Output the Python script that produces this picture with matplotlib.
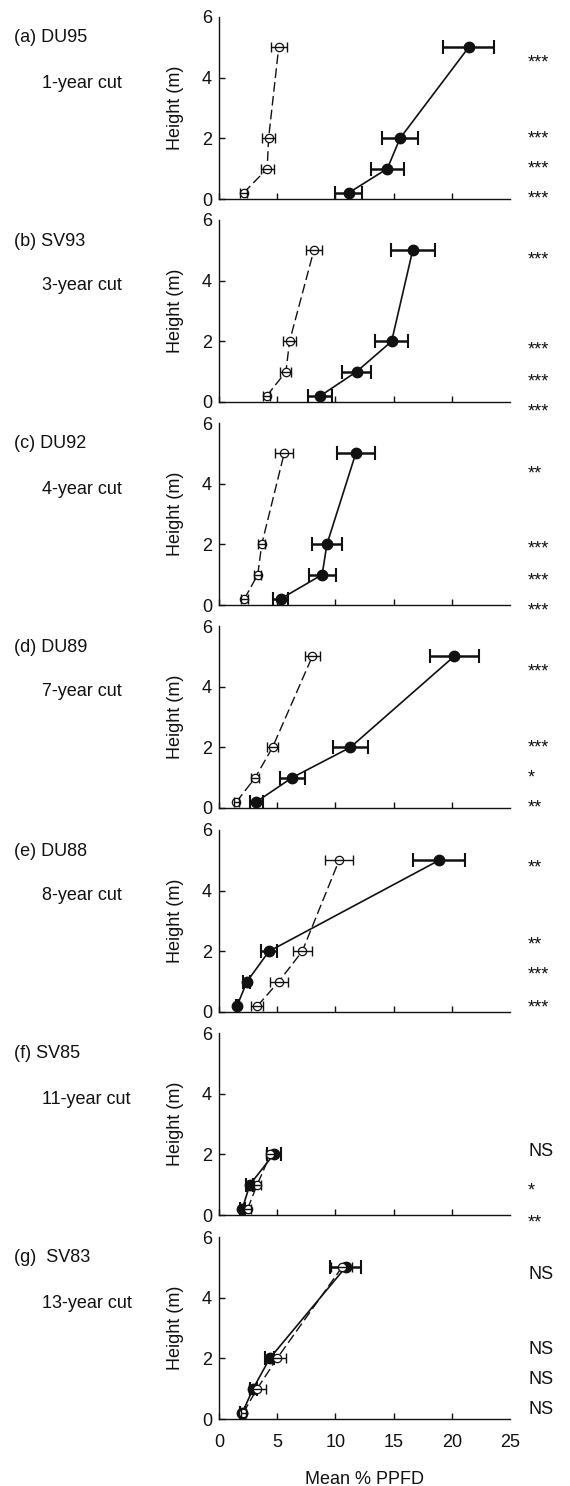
import numpy as np
import matplotlib.pyplot as plt
from matplotlib import transforms

plt.rcParams['font.family'] = ['Liberation Sans', 'DejaVu Sans']
plt.rcParams['font.size'] = 13

# DATA (mean % PPFD at each height, open = dashed series, filled = solid series)
heights = [0.2, 1, 2, 5]
heights_short = [0.2, 1, 2]

sites = ["(a) DU95", "(b) SV93", "(c) DU92", "(d) DU89", "(e) DU88", "(f) SV85", "(g)  SV83"]
cuts = ["1-year cut", "3-year cut", "4-year cut", "7-year cut", "8-year cut", "11-year cut", "13-year cut"]

open_a = [2.11, 4.14, 4.26, 5.13]
open_a_err = [0.3, 0.55, 0.55, 0.7]
filled_a = [11.13, 14.46, 15.55, 21.45]
filled_a_err = [1.17, 1.4, 1.55, 2.2]

open_b = [4.1, 5.75, 6.06, 8.15]
open_b_err = [0.3, 0.47, 0.53, 0.7]
filled_b = [8.7, 11.82, 14.83, 16.64]
filled_b_err = [1.05, 1.25, 1.45, 1.9]

open_c = [2.18, 3.33, 3.67, 5.6]
open_c_err = [0.3, 0.3, 0.3, 0.75]
filled_c = [5.29, 8.86, 9.27, 11.75]
filled_c_err = [0.62, 1.15, 1.28, 1.63]

open_d = [1.49, 3.11, 4.6, 8.02]
open_d_err = [0.2, 0.35, 0.5, 0.62]
filled_d = [3.2, 6.28, 11.29, 20.2]
filled_d_err = [0.55, 1.07, 1.52, 2.1]

open_e = [3.3, 5.13, 7.15, 10.32]
open_e_err = [0.52, 0.78, 0.82, 1.23]
filled_e = [1.55, 2.4, 4.29, 18.9]
filled_e_err = [0.1, 0.3, 0.65, 2.2]

open_f = [2.45, 3.28, 4.42]
open_f_err = [0.3, 0.3, 0.4]
filled_f = [2.0, 2.65, 4.7]
filled_f_err = [0.2, 0.3, 0.6]

open_g = [2.08, 3.28, 4.99, 10.56]
open_g_err = [0.2, 0.74, 0.8, 0.9]
filled_g = [2.0, 2.93, 4.36, 10.87]
filled_g_err = [0.2, 0.3, 0.4, 1.3]

sig_a = ["***", "***", "***", "***"]
sig_b = ["***", "***", "***", "***"]
sig_c = ["**", "***", "***", "***"]
sig_d = ["***", "***", "*", "**"]
sig_e = ["**", "**", "***", "***"]
sig_f = ["NS", "*", "**"]
sig_g = ["NS", "NS", "NS", "NS"]

# where the significance marks sit (height units)
sig_y_a = [4.67, 2.17, 1.18, 0.2]
sig_y_b = [4.85, 1.9, 0.85, -0.13]
sig_y_c = [4.5, 2.04, 0.99, 0.0]
sig_y_d = [4.66, 2.15, 1.16, 0.17]
sig_y_e = [4.92, 2.38, 1.39, 0.33]
sig_y_f = [2.14, 0.99, -0.07]
sig_y_g = [4.8, 2.33, 1.35, 0.36]

panels = [
    (heights, open_a, open_a_err, filled_a, filled_a_err, sig_a, sig_y_a),
    (heights, open_b, open_b_err, filled_b, filled_b_err, sig_b, sig_y_b),
    (heights, open_c, open_c_err, filled_c, filled_c_err, sig_c, sig_y_c),
    (heights, open_d, open_d_err, filled_d, filled_d_err, sig_d, sig_y_d),
    (heights, open_e, open_e_err, filled_e, filled_e_err, sig_e, sig_y_e),
    (heights_short, open_f, open_f_err, filled_f, filled_f_err, sig_f, sig_y_f),
    (heights, open_g, open_g_err, filled_g, filled_g_err, sig_g, sig_y_g),
]

# LAYOUT (pixels of the 570x1486 figure)
W, H = 570, 1486
AX_L, AX_R = 219, 510
AX_H = 182
tops = [17, 220, 423, 626, 830, 1033, 1237]
SIG_X = 528
INK = "#111111"

fig = plt.figure(figsize=(W / 100, H / 100), dpi=100)

for i, (h, ox, oe, fx, fe, sig, sig_y) in enumerate(panels):
    top = tops[i]
    ax = fig.add_axes([AX_L / W, 1 - (top + AX_H) / H, (AX_R - AX_L) / W, AX_H / H])

    # filled series, solid
    ax.errorbar(fx, h, xerr=fe, fmt="none", ecolor=INK, elinewidth=1.8,
                capsize=5, capthick=1.5, zorder=2)
    ax.plot(fx, h, "-o", color=INK, lw=1.2, ms=7.5, zorder=3)

    # open series, dashed
    ax.plot(ox, h, ls=(0, (7, 3)), color=INK, lw=1.0, zorder=2.5)
    ax.plot(ox, h, "o", mfc="white", mec=INK, ms=6, mew=0.9, zorder=4)
    ax.errorbar(ox, h, xerr=oe, fmt="none", ecolor=INK, elinewidth=1.0,
                capsize=3.5, capthick=1.0, zorder=5)

    ax.set_xlim(0, 25)
    ax.set_ylim(0, 6)
    ax.set_xticks([0, 5, 10, 15, 20, 25])
    ax.set_yticks([0, 2, 4, 6])
    ax.spines["top"].set_visible(False)
    ax.spines["right"].set_visible(False)
    for s in ("left", "bottom"):
        ax.spines[s].set_linewidth(1.0)
        ax.spines[s].set_color(INK)
    ax.tick_params(direction="in", length=4, width=1.0, color=INK, labelcolor=INK)
    ax.tick_params(axis="y", pad=5)
    ax.tick_params(axis="x", pad=11)
    ax.xaxis.get_major_ticks()[-1].tick1line.set_visible(False)
    ax.yaxis.get_major_ticks()[-1].tick1line.set_visible(False)
    if i < len(panels) - 1:
        ax.set_xticklabels([])

    fig.text(175 / W, 1 - (top + AX_H / 2) / H, "Height (m)", rotation=90,
             ha="center", va="center", color=INK)
    fig.text(14 / W, 1 - (top + 21) / H, sites[i], ha="left", va="center", color=INK)
    fig.text(42 / W, 1 - (top + 66) / H, cuts[i], ha="left", va="center", color=INK)

    trans = transforms.blended_transform_factory(fig.transFigure, ax.transData)
    for lab, yv in zip(sig, sig_y):
        dy = -1 if lab == "NS" else -4
        ax.annotate(lab, xy=(SIG_X / W, yv), xycoords=trans, xytext=(0, dy),
                    textcoords="offset points", ha="left", va="center",
                    color=INK, annotation_clip=False)

fig.text((AX_L + AX_R) / 2 / W, 1.5 / H, "Mean % PPFD", ha="center", va="baseline", color=INK)

fig.savefig("out.png", dpi=100)
